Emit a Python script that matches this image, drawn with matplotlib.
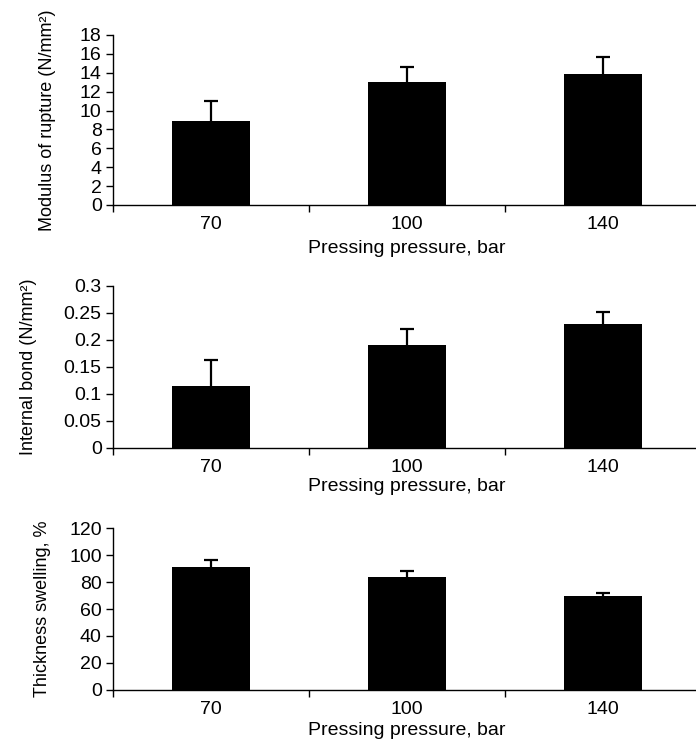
import numpy as np
import matplotlib
matplotlib.use("Agg")
import matplotlib.pyplot as plt
from matplotlib.ticker import FuncFormatter

plt.rcParams['font.family'] = ['Liberation Sans', 'DejaVu Sans']

pressure = ["70", "100", "140"]

mor = [8.9, 13.0, 13.85]
mor_err = [2.1, 1.6, 1.85]

ib = [0.115, 0.191, 0.229]
ib_err = [0.048, 0.029, 0.023]

ts = [91.3, 83.7, 69.9]
ts_err = [5.1, 4.2, 1.9]


def plot_panel(ax, vals, errs, ylabel, ymax, step, xpad, ylab_x):
    x = np.arange(len(pressure))
    ax.bar(x, vals, width=0.4, color="black", zorder=3)
    # error bars only go up, drawn behind the bars
    eb = ax.errorbar(x, vals, yerr=[np.zeros(len(errs)), errs], fmt="none",
                     ecolor="black", elinewidth=1.6, capsize=5, capthick=1.6, zorder=2)
    for cap in eb[1]:
        if np.allclose(cap.get_ydata(), vals):
            cap.set_visible(False)
    ax.set_xlim(-0.5, 2.5)
    ax.set_ylim(0, ymax)
    ax.set_yticks(np.arange(0, ymax + step / 2, step))
    ax.yaxis.set_major_formatter(FuncFormatter(lambda v, p: "%g" % round(v, 4)))
    # ticks between categories, labels under the bars
    ax.set_xticks([-0.5, 0.5, 1.5, 2.5])
    ax.set_xticklabels([])
    ax.set_xticks(x, minor=True)
    ax.set_xticklabels(pressure, minor=True)
    ax.tick_params(axis="x", which="major", direction="out", length=5, width=1)
    ax.tick_params(axis="x", which="minor", length=0, pad=8, labelsize=14)
    ax.tick_params(axis="y", direction="out", length=5, width=1, pad=3, labelsize=14)
    for s in ["top", "right"]:
        ax.spines[s].set_visible(False)
    for s in ["left", "bottom"]:
        ax.spines[s].set_linewidth(1.0)
    ax.set_ylabel(ylabel, fontsize=13)
    ax.yaxis.set_label_coords(ylab_x, 0.5)
    ax.set_xlabel("Pressing pressure, bar", fontsize=14, labelpad=xpad)


fig = plt.figure(figsize=(6.96, 7.44), dpi=100)
ax1 = fig.add_axes([0.162, 0.7245, 0.845, 0.2285])
ax2 = fig.add_axes([0.162, 0.398, 0.845, 0.2177])
ax3 = fig.add_axes([0.162, 0.0726, 0.845, 0.2177])

plot_panel(ax1, mor, mor_err, "Modulus of rupture (N/mm²)", 18, 2, 5, -0.097)
plot_panel(ax2, ib, ib_err, "Internal bond (N/mm²)", 0.3, 0.05, 1.5, -0.128)
plot_panel(ax3, ts, ts_err, "Thickness swelling, %", 120, 20, 3, -0.105)

fig.savefig("out.png", dpi=100)
